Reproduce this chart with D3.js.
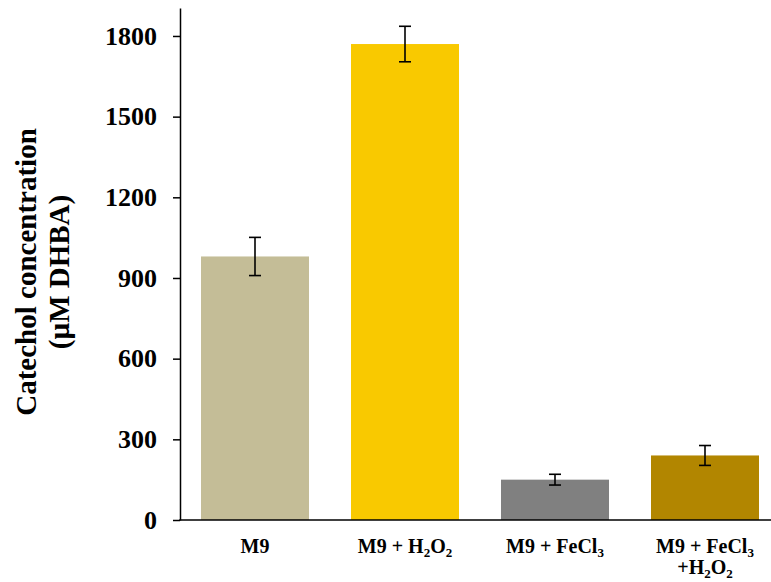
<!DOCTYPE html>
<html>
<head>
<meta charset="utf-8">
<script src="https://cdn.jsdelivr.net/npm/d3@7"></script>
<style>
  body { margin: 0; background: #fff; }
  svg text { font-family: "Liberation Serif", "Times New Roman", serif; font-weight: bold; }
</style>
</head>
<body>
<script>
const categories = ['M9', 'M9 + H2O2', 'M9 + FeCl3', 'M9 + FeCl3 +H2O2'];
const values = [980, 1770, 150, 240];
const errors = [71, 66, 20, 37];
const barColors = ['#c4bd97', '#f9c900', '#808080', '#b28600'];
const yTicks = [0, 300, 600, 900, 1200, 1500, 1800];

const w = 771;
const h = 582;
const margin = { left: 180, top: 8, right: -9, bottom: 62 };

const svg = d3.select('body')
  .append('svg')
  .attr('width', w)
  .attr('height', h);

const xScale = d3.scaleBand()
  .domain(categories)
  .range([margin.left, w - margin.right])
  .paddingInner(0.28)
  .paddingOuter(0.14);

const yScale = d3.scaleLinear()
  .domain([0, 1904])
  .range([h - margin.bottom, margin.top]);

// bars
svg.selectAll('rect.bar')
  .data(values)
  .enter()
  .append('rect')
  .attr('class', 'bar')
  .attr('x', (d, i) => xScale(categories[i]))
  .attr('y', (d) => yScale(d))
  .attr('width', xScale.bandwidth())
  .attr('height', (d) => yScale(0) - yScale(d))
  .attr('fill', (d, i) => barColors[i]);

// error bars
const errG = svg.append('g')
  .attr('stroke', '#000')
  .attr('stroke-width', 1.6);
values.forEach((v, i) => {
  const cx = xScale(categories[i]) + xScale.bandwidth() / 2;
  const top = yScale(v + errors[i]);
  const bot = yScale(v - errors[i]);
  errG.append('line').attr('x1', cx).attr('x2', cx).attr('y1', top).attr('y2', bot);
  errG.append('line').attr('x1', cx - 6).attr('x2', cx + 6).attr('y1', top).attr('y2', top);
  errG.append('line').attr('x1', cx - 6).attr('x2', cx + 6).attr('y1', bot).attr('y2', bot);
});

// y axis
const yAxis = d3.axisLeft(yScale)
  .tickValues(yTicks)
  .tickFormat(d3.format('d'))
  .tickSize(7)
  .tickPadding(16)
  .tickSizeOuter(0);
const gy = svg.append('g')
  .attr('transform', `translate(${margin.left}, 0)`)
  .call(yAxis);
gy.select('.domain').attr('stroke-width', 1.5);
gy.selectAll('.tick line').attr('stroke-width', 1.5);
gy.selectAll('text')
  .style('font-size', '26px')
  .attr('fill', '#000');

// x axis line
svg.append('line')
  .attr('x1', margin.left - 0.75)
  .attr('x2', w)
  .attr('y1', yScale(0))
  .attr('y2', yScale(0))
  .attr('stroke', '#000')
  .attr('stroke-width', 1.5);

// x labels with subscripts
const labelParts = [
  [[['M9', false]]],
  [[['M9 + H', false], ['2', true], ['O', false], ['2', true]]],
  [[['M9 + FeCl', false], ['3', true]]],
  [[['M9 + FeCl', false], ['3', true]], [['+H', false], ['2', true], ['O', false], ['2', true]]]
];
labelParts.forEach((lines, i) => {
  const cx = xScale(categories[i]) + xScale.bandwidth() / 2;
  lines.forEach((parts, j) => {
    const t = svg.append('text')
      .attr('x', cx)
      .attr('y', 553 + j * 21)
      .attr('text-anchor', 'middle')
      .style('font-size', '20px');
    parts.forEach(([s, sub]) => {
      const ts = t.append('tspan').text(s);
      if (sub) ts.style('font-size', '13px').attr('dy', 4);
      else if (t.selectAll('tspan').size() > 1) ts.attr('dy', -4);
    });
  });
});

// y axis title
const titleY = 272;
svg.append('text')
  .attr('transform', `translate(36, ${titleY}) rotate(-90)`)
  .attr('text-anchor', 'middle')
  .style('font-size', '29px')
  .text('Catechol concentration');
svg.append('text')
  .attr('transform', `translate(69, ${titleY}) rotate(-90)`)
  .attr('text-anchor', 'middle')
  .style('font-size', '29px')
  .text('(µM DHBA)');
</script>
</body>
</html>
